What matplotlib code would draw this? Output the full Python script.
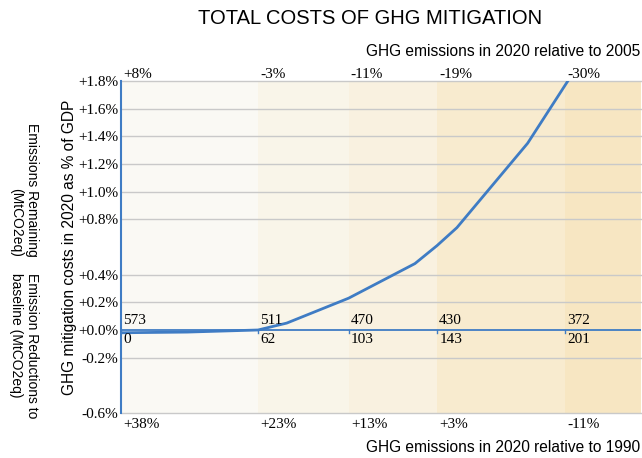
import numpy as np
import matplotlib.pyplot as plt
import matplotlib.transforms as mtransforms

# values
reductions = [0, 62, 103, 143, 201]          # MtCO2eq reduced vs baseline
remaining = [573, 511, 470, 430, 372]        # MtCO2eq remaining
rel_2005 = ['+8%', '-3%', '-11%', '-19%', '-30%']
rel_1990 = ['+38%', '+23%', '+13%', '+3%', '-11%']

curve_x = [0, 30, 62, 75, 103, 133, 143, 152, 184, 203]
curve_y = [-0.02, -0.015, 0.0, 0.05, 0.23, 0.48, 0.61, 0.74, 1.35, 1.82]

y_ticks = [-0.6, -0.2, 0.0, 0.2, 0.4, 0.8, 1.0, 1.2, 1.4, 1.6, 1.8]
band_colors = ['#faf9f4', '#f9f5e9', '#f9f1e0', '#f8ebcf', '#f7e6c2']

BLUE = '#3f7cc4'
GRID = '#c9c9c9'
num_font = ['Liberation Serif', 'DejaVu Serif']
sans = ['Liberation Sans', 'DejaVu Sans']
NUM_SIZE = 11

fig = plt.figure(figsize=(6.42, 4.58), dpi=100)
ax = fig.add_axes([121 / 642, 45 / 458, 520 / 642, 332 / 458])
xmax = 235.3
ax.set_xlim(0, xmax)
ax.set_ylim(-0.6, 1.8)

# shaded bands
edges = reductions + [xmax]
for i, c in enumerate(band_colors):
    ax.axvspan(edges[i], edges[i + 1], color=c, lw=0, zorder=0)

# grid lines
for v in y_ticks:
    if v != 0:
        ax.axhline(v, color=GRID, lw=1, zorder=1, clip_on=False)
ax.axhline(0, color=BLUE, lw=1.3, zorder=2)

ax.plot(curve_x, curve_y, color=BLUE, lw=2, zorder=3)

for s in ['top', 'right', 'bottom']:
    ax.spines[s].set_visible(False)
ax.spines['left'].set_color(BLUE)
ax.spines['left'].set_linewidth(1.5)

ax.set_xticks([])
ax.set_yticks(y_ticks)
ax.set_yticklabels([f'{v:+.1f}%' for v in y_ticks], fontfamily=num_font, fontsize=NUM_SIZE)
ax.tick_params(axis='y', length=0, pad=2)

trans = mtransforms.blended_transform_factory(ax.transData, ax.transAxes)
for x, top, bot, rem in zip(reductions, rel_2005, rel_1990, remaining):
    ax.text(x + 1, 1.0, top, transform=trans, ha='left', va='bottom',
            fontfamily=num_font, fontsize=NUM_SIZE, clip_on=False)
    ax.text(x + 1, -0.015, bot, transform=trans, ha='left', va='top',
            fontfamily=num_font, fontsize=NUM_SIZE, clip_on=False)
    ax.text(x + 1, 0.02, str(rem), ha='left', va='bottom',
            fontfamily=num_font, fontsize=NUM_SIZE, zorder=4)
    ax.text(x + 1, -0.02, str(x), ha='left', va='top',
            fontfamily=num_font, fontsize=NUM_SIZE, zorder=4)
    ax.plot([x, x], [0, -0.02], color=BLUE, lw=1, zorder=2)

fig.text(370 / 642, 1 - 18 / 458, 'TOTAL COSTS OF GHG MITIGATION',
         ha='center', va='center', fontfamily=sans, fontsize=14.5)
fig.text(640 / 642, 1 - 52 / 458, 'GHG emissions in 2020 relative to 2005',
         ha='right', va='center', fontfamily=sans, fontsize=11.2)
fig.text(640 / 642, 1 - 448 / 458, 'GHG emissions in 2020 relative to 1990',
         ha='right', va='center', fontfamily=sans, fontsize=11.2)
fig.text(70 / 642, 1 - 247 / 458, 'GHG mitigation costs in 2020 as % of GDP',
         ha='center', va='center', rotation=90, fontfamily=sans, fontsize=11.2)
fig.text(24 / 642, 1 - 257 / 458, 'Emissions Remaining\n(MtCO2eq)',
         ha='center', va='bottom', rotation=270,
         multialignment='right', fontfamily=sans, fontsize=10)
fig.text(24 / 642, 1 - 273 / 458, 'Emission Reductions to\nbaseline (MtCO2eq)',
         ha='center', va='top', rotation=270,
         multialignment='left', fontfamily=sans, fontsize=10)

fig.savefig('out.png', dpi=100)
